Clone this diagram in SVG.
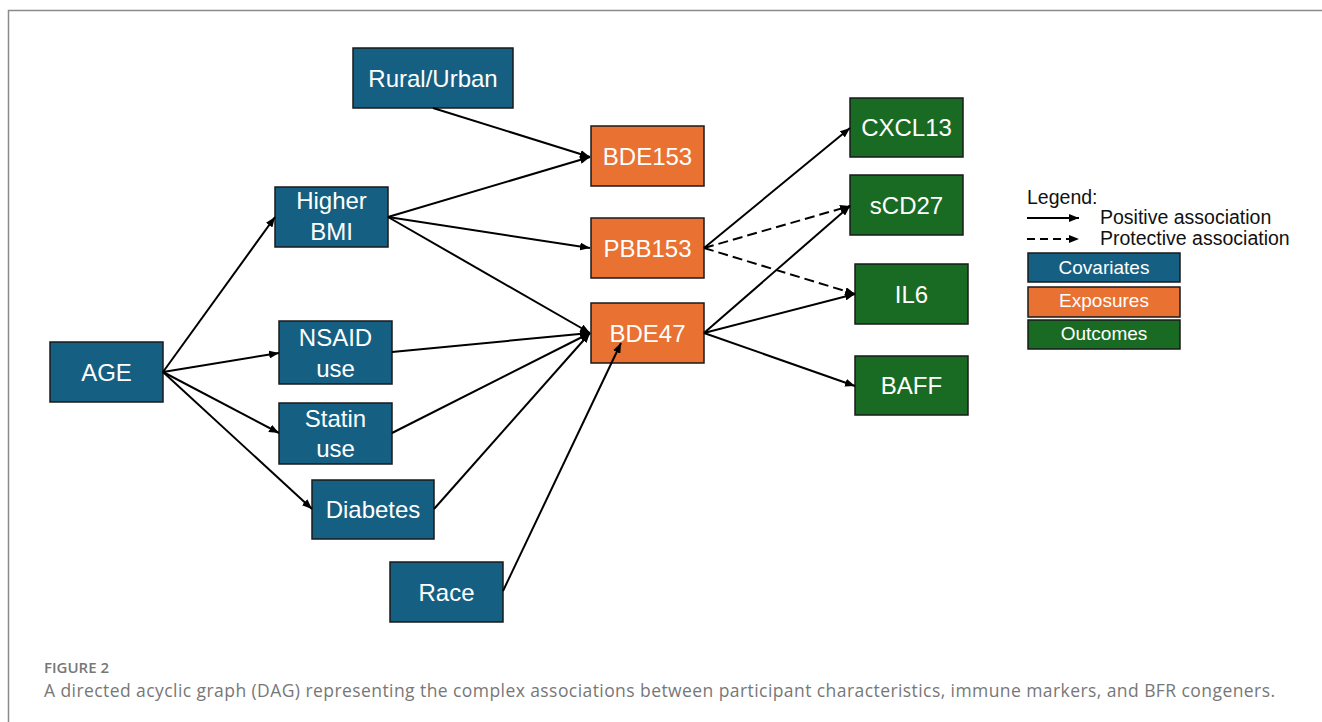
<svg xmlns="http://www.w3.org/2000/svg" width="1322" height="722" viewBox="0 0 1322 722">
<style>
  .cov{fill:#156082;stroke:#1a1a1a;stroke-width:1.5}
  .exp{fill:#E97132;stroke:#1a1a1a;stroke-width:1.5}
  .out{fill:#196B24;stroke:#1a1a1a;stroke-width:1.5}
  .lbl{font-family:"Liberation Sans",Arial,sans-serif;font-size:24px;fill:#ffffff;text-anchor:middle}
  .leg{font-family:"Liberation Sans",Arial,sans-serif;font-size:19.5px;fill:#111111}
  .legb{font-family:"Liberation Sans",Arial,sans-serif;font-size:19px;fill:#ffffff;text-anchor:middle}
  .edge{stroke:#000;stroke-width:2;fill:none;marker-end:url(#ah)}
  .dash{stroke-dasharray:10 5}
  .cap{font-family:"Open Sans","Liberation Sans",sans-serif;fill:#777777}
</style>
<defs>
  <marker id="ah" markerUnits="userSpaceOnUse" markerWidth="10" markerHeight="8" refX="10" refY="4" orient="auto">
    <path d="M0,0 L10,4 L0,8 z" fill="#000"/>
  </marker>
</defs>
<rect x="0" y="0" width="1322" height="722" fill="#ffffff"/>
<rect x="8.5" y="10.5" width="1340" height="740" fill="none" stroke="#8a8a8a" stroke-width="1.5"/>

<g id="rural"><rect class="cov" x="353" y="48" width="160" height="60"/><text class="lbl" x="433" y="86.5">Rural/Urban</text></g>
<g id="bmi"><rect class="cov" x="275" y="187" width="113" height="60"/><text class="lbl" x="331.5" y="209">Higher</text><text class="lbl" x="331.5" y="240">BMI</text></g>
<g id="age"><rect class="cov" x="50" y="342" width="113" height="60"/><text class="lbl" x="106.5" y="380.5">AGE</text></g>
<g id="nsaid"><rect class="cov" x="279" y="321" width="113" height="63"/><text class="lbl" x="335.5" y="346">NSAID</text><text class="lbl" x="335.5" y="377">use</text></g>
<g id="statin"><rect class="cov" x="279" y="403" width="113" height="61"/><text class="lbl" x="335.5" y="427">Statin</text><text class="lbl" x="335.5" y="457">use</text></g>
<g id="diabetes"><rect class="cov" x="312" y="480" width="122" height="59"/><text class="lbl" x="373" y="518">Diabetes</text></g>
<g id="race"><rect class="cov" x="390" y="562" width="113" height="60"/><text class="lbl" x="446.5" y="600.5">Race</text></g>

<g id="bde153"><rect class="exp" x="591" y="126" width="113" height="60"/><text class="lbl" x="647.5" y="164.5">BDE153</text></g>
<g id="pbb153"><rect class="exp" x="591" y="218" width="113" height="60"/><text class="lbl" x="647.5" y="256.5">PBB153</text></g>
<g id="bde47"><rect class="exp" x="591" y="303" width="113" height="60"/><text class="lbl" x="647.5" y="341.5">BDE47</text></g>

<g id="cxcl13"><rect class="out" x="850" y="98" width="113" height="59"/><text class="lbl" x="906.5" y="136">CXCL13</text></g>
<g id="scd27"><rect class="out" x="850" y="175" width="113" height="60"/><text class="lbl" x="906.5" y="213.5">sCD27</text></g>
<g id="il6"><rect class="out" x="855" y="264" width="113" height="60"/><text class="lbl" x="911.5" y="302.5">IL6</text></g>
<g id="baff"><rect class="out" x="855" y="356" width="113" height="59"/><text class="lbl" x="911.5" y="394">BAFF</text></g>

<g id="connectors">
  <line class="edge" x1="433" y1="108" x2="590" y2="157"/>
  <line class="edge" x1="388" y1="217" x2="590" y2="157"/>
  <line class="edge" x1="388" y1="217" x2="590" y2="248"/>
  <line class="edge" x1="388" y1="217" x2="590" y2="333"/>
  <line class="edge" x1="163" y1="372" x2="275" y2="217"/>
  <line class="edge" x1="163" y1="372" x2="279" y2="353"/>
  <line class="edge" x1="163" y1="372" x2="279" y2="433"/>
  <line class="edge" x1="163" y1="372" x2="312" y2="509"/>
  <line class="edge" x1="392" y1="352" x2="590" y2="333"/>
  <line class="edge" x1="392" y1="433" x2="590" y2="333"/>
  <line class="edge" x1="434" y1="509" x2="590" y2="333"/>
  <line class="edge" x1="503" y1="591" x2="621" y2="343"/>
  <line class="edge" x1="704" y1="248" x2="850" y2="128"/>
  <line class="edge dash" x1="704" y1="248" x2="850" y2="206"/>
  <line class="edge dash" x1="704" y1="248" x2="855" y2="294"/>
  <line class="edge" x1="704" y1="333" x2="850" y2="206"/>
  <line class="edge" x1="704" y1="333" x2="855" y2="294"/>
  <line class="edge" x1="704" y1="333" x2="855" y2="386"/>
</g>

<g id="legend">
  <text class="leg" x="1027" y="204">Legend:</text>
  <line class="edge" x1="1027" y1="218" x2="1079" y2="218"/>
  <text class="leg" x="1100" y="224">Positive association</text>
  <line class="edge dash" x1="1027" y1="239" x2="1079" y2="239" style="stroke-dasharray:8 5"/>
  <text class="leg" x="1100" y="245">Protective association</text>
  <rect class="cov" x="1028" y="253" width="152" height="29"/>
  <text class="legb" x="1104" y="274">Covariates</text>
  <rect class="exp" x="1028" y="287" width="152" height="30"/>
  <text class="legb" x="1104" y="307">Exposures</text>
  <rect class="out" x="1028" y="320" width="152" height="29"/>
  <text class="legb" x="1104" y="340">Outcomes</text>
</g>

<g id="caption">
  <text class="cap" x="44" y="673" font-size="15" font-weight="600">FIGURE 2</text>
  <text class="cap" x="44" y="697" font-size="17.5" textLength="1231" lengthAdjust="spacing">A directed acyclic graph (DAG) representing the complex associations between participant characteristics, immune markers, and BFR congeners.</text>
</g>
</svg>
